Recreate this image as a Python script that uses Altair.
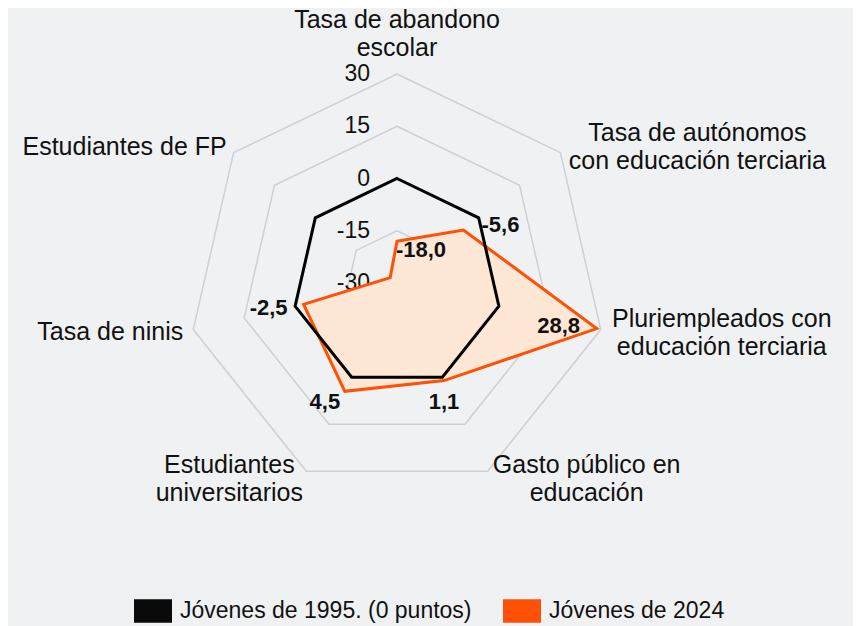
import altair as alt
import pandas as pd

# ---------------- data ----------------
categories = [
    "Tasa de abandono\nescolar",
    "Tasa de autónomos\ncon educación terciaria",
    "Pluriempleados con\neducación terciaria",
    "Gasto público en\neducación",
    "Estudiantes\nuniversitarios",
    "Tasa de ninis",
    "Estudiantes de FP",
]
series_names = ["Jóvenes de 1995. (0 puntos)", "Jóvenes de 2024"]
values_1995 = [0, 0, 0, 0, 0, 0, 0]
values_2024 = [-18.0, -5.6, 28.8, 1.1, 4.5, -2.5, -27.5]
labels_2024 = ["-18,0", "-5,6", "28,8", "1,1", "4,5", "-2,5", ""]
tick_values = [30, 15, 0, -15, -30]
tick_labels = ["30", "15", "0", "-15", "-30"]
grid_values = [-15, 0, 15, 30]
r_min, r_max = -30, 30

# ---------------- layout / style ----------------
W, H = 845, 618
CX, CY = 389, 275          # centre of the radar in plot pixels
R_PX = 209                 # outer ring radius in pixels
K = R_PX / (r_max - r_min)  # pixels per unit
N = len(categories)

BG = "#F0F1F3"
GRID = "#CDD0D4"
ORANGE = "#FF5005"
FILL = "#FFE7D6"
BLACK = "#000000"
TEXT = "#111111"
FONT = "Liberation Sans"
LINE_H = 28

# label offsets (pixels) of the value labels, relative to their vertex
val_off_x = [24, 37, -38, 0, -20, -35, 0]
val_off_y = [9, -5, -3, 21, 11, 4, 0]
# category label offsets (pixels, first-line centre) relative to the outer vertex
cat_off_x = [0, 137, 121, 99, -77, -83, -109]
cat_off_y = [-54, -20, -11, -6, -6, 2.5, -6]

xscale = alt.Scale(domain=[-CX / K, (W - CX) / K], nice=False, zero=False)
yscale = alt.Scale(domain=[-(H - CY) / K, CY / K], nice=False, zero=False)

ANG = f"datum.idx * 2 * PI / {N}"


def polar(chart, field="value"):
    return chart.transform_calculate(
        ang=ANG,
        r=f"datum.{field} - ({r_min})",
    ).transform_calculate(
        px="datum.r * sin(datum.ang)",
        py="datum.r * cos(datum.ang)",
    )


def xy():
    return dict(
        x=alt.X("px:Q", scale=xscale, axis=None),
        y=alt.Y("py:Q", scale=yscale, axis=None),
    )


# grid rings
grid_df = pd.DataFrame(
    [{"ring": g, "idx": i, "value": g} for g in grid_values for i in range(N)]
)
grid = polar(alt.Chart(grid_df)).mark_line(
    stroke=GRID, strokeWidth=1.5, interpolate="linear-closed"
).encode(order="idx:Q", detail="ring:N", **xy())

# tick labels
tick_df = pd.DataFrame({"value": tick_values, "label": tick_labels})
ticks = alt.Chart(tick_df).transform_calculate(
    px=f"{-27 / K}",
    py=f"datum.value - ({r_min})",
).mark_text(
    align="right", baseline="middle", font=FONT, fontSize=23, color=TEXT
).encode(text="label:N", **xy())

# series
ser_df = pd.DataFrame(
    [{"series": series_names[0], "idx": i, "value": v} for i, v in enumerate(values_1995)]
    + [{"series": series_names[1], "idx": i, "value": v} for i, v in enumerate(values_2024)]
)
orange_area = polar(alt.Chart(ser_df)).transform_filter(
    alt.datum.series == series_names[1]
).mark_line(
    fill=FILL, stroke=ORANGE, strokeWidth=3, interpolate="linear-closed",
    strokeJoin="miter",
).encode(order="idx:Q", **xy())

black_line = polar(alt.Chart(ser_df)).transform_filter(
    alt.datum.series == series_names[0]
).mark_line(
    stroke=BLACK, strokeWidth=3, interpolate="linear-closed", strokeJoin="miter",
).encode(order="idx:Q", **xy())

# legend carrier (invisible points)
legend_layer = polar(alt.Chart(ser_df)).mark_point(
    filled=True, opacity=0, size=1
).encode(
    color=alt.Color(
        "series:N",
        scale=alt.Scale(domain=series_names, range=["#0A0A0A", ORANGE]),
        legend=alt.Legend(
            orient="none",
            legendX=126,
            legendY=584,
            direction="horizontal",
            title=None,
            symbolType="M-1,-0.62L1,-0.62L1,0.62L-1,0.62Z",
            symbolSize=1444,
            symbolOpacity=1,
            symbolStrokeWidth=0,
            labelFont=FONT,
            labelFontSize=23,
            labelColor=TEXT,
            labelOffset=8,
            columnPadding=31,
            padding=0,
            labelLimit=400,
        ),
    ),
    **xy(),
)

# value labels
lab_df = pd.DataFrame(
    {"idx": list(range(N)), "value": values_2024, "label": labels_2024,
     "ox": val_off_x, "oy": val_off_y}
)
value_labels = polar(alt.Chart(lab_df)).transform_filter(
    "datum.label != ''"
).transform_calculate(
    lx=f"datum.px + datum.ox / {K}",
    ly=f"datum.py - datum.oy / {K}",
).mark_text(
    align="center", baseline="middle", font=FONT, fontSize=22,
    fontWeight="bold", color=TEXT,
).encode(
    x=alt.X("lx:Q", scale=xscale, axis=None),
    y=alt.Y("ly:Q", scale=yscale, axis=None),
    text="label:N",
)

# category labels
cat_df = pd.DataFrame(
    {"idx": list(range(N)), "label": categories, "value": [r_max] * N,
     "ox": cat_off_x, "oy": cat_off_y}
)
cat_labels = polar(alt.Chart(cat_df)).transform_calculate(
    lx=f"datum.px + datum.ox / {K}",
    ly=f"datum.py - datum.oy / {K}",
).mark_text(
    align="center", baseline="middle", font=FONT, fontSize=25, color=TEXT,
    lineBreak="\n", lineHeight=LINE_H,
).encode(
    x=alt.X("lx:Q", scale=xscale, axis=None),
    y=alt.Y("ly:Q", scale=yscale, axis=None),
    text="label:N",
)

chart = alt.layer(
    grid, ticks, orange_area, black_line, legend_layer, value_labels, cat_labels
).properties(
    width=W, height=H, autosize=alt.AutoSizeParams(type="none"), padding=0,
    background=BG,
).configure_view(stroke=None)

chart.save("out.html", embed_options={"renderer": "svg", "actions": False})
